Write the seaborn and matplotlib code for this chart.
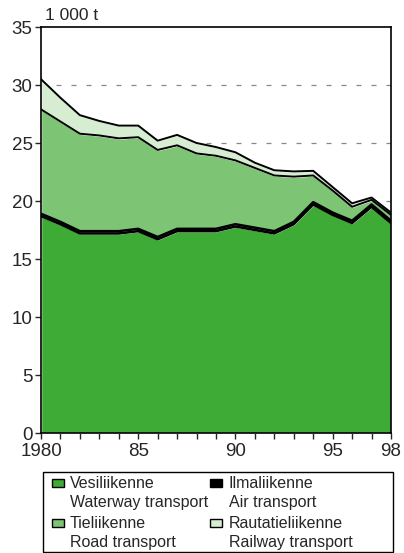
import numpy as np
import matplotlib
matplotlib.use("Agg")
import matplotlib.pyplot as plt
import seaborn as sns
from matplotlib.patches import Rectangle

years = list(range(1980, 1999))
waterway = [18.7, 18.0, 17.2, 17.2, 17.2, 17.4, 16.7, 17.4, 17.4, 17.4,
            17.8, 17.5, 17.2, 18.0, 19.7, 18.8, 18.1, 19.5, 18.1]
air = [0.2] * 19
road = [9.0, 8.65, 8.4, 8.25, 8.0, 7.9, 7.5, 7.2, 6.5, 6.3,
        5.5, 5.15, 4.8, 3.9, 2.3, 1.9, 1.2, 0.4, 0.5]
railway = [2.6, 2.05, 1.6, 1.25, 1.1, 1.0, 0.8, 0.9, 0.9, 0.75,
           0.7, 0.45, 0.45, 0.45, 0.4, 0.3, 0.3, 0.2, 0.2]

labels = ["Vesiliikenne\nWaterway transport", "Ilmaliikenne\nAir transport",
          "Tieliikenne\nRoad transport", "Rautatieliikenne\nRailway transport"]
colors = ["#3dab35", "#000000", "#7dc474", "#d6edd1"]
xticks = [1980, 1985, 1990, 1995, 1998]
xticklabels = ["1980", "85", "90", "95", "98"]

sns.set_theme(style="ticks")
plt.rcParams['font.family'] = ['Liberation Sans', 'DejaVu Sans']

W, H = 404, 553
fig = plt.figure(figsize=(W / 100, H / 100), dpi=100)
ax = fig.add_axes([41 / W, 1 - 433 / H, 350 / W, 406 / H])

# dashed grid behind the areas
for yv in range(5, 35, 5):
    ax.axhline(yv, color="#888888", lw=0.9, ls=(0, (4, 8)), zorder=0)

ax.stackplot(years, waterway, air, road, railway, colors=colors, zorder=1)

# boundary lines (heavier around the air band)
cum = np.cumsum([waterway, air, road, railway], axis=0)
for level, lw in zip(cum, [1.8, 1.8, 1.4, 1.4]):
    sns.lineplot(x=years, y=level, color="black", lw=lw, ax=ax, zorder=2)

ax.set_xlim(1980, 1998)
ax.set_ylim(0, 35)
ax.set_xticks(years, minor=True)
ax.set_xticks(xticks)
ax.set_xticklabels(xticklabels, fontsize=13.5)
ax.set_yticks(range(0, 36, 5))
ax.tick_params(axis="y", labelsize=13.5, length=4, width=1, pad=2)
ax.tick_params(axis="x", which="both", length=4, width=1, pad=3)
for s in ax.spines.values():
    s.set_linewidth(1.2)
    s.set_color("black")

fig.text(45 / W, 1 - 15 / H, "1 000 t", fontsize=12.5, va="center")

# legend drawn by hand: box, swatches aligned with first text line
fig.patches.append(Rectangle((43 / W, 1 - 552 / H), 350 / W, 80 / H,
                             transform=fig.transFigure, fill=False,
                             edgecolor="black", lw=1.0))
order = [0, 2, 1, 3]
spots = [(52, 70, 483), (52, 70, 523), (210, 229, 483), (210, 229, 523)]
for k, (sx, tx, ty) in zip(order, spots):
    fig.patches.append(Rectangle((sx / W, 1 - (ty + 4) / H), 12 / W, 8 / H,
                                 transform=fig.transFigure,
                                 facecolor=colors[k], edgecolor="black", lw=1.0))
    first, second = labels[k].split("\n")
    fig.text(tx / W, 1 - ty / H, first, fontsize=11.5, va="center")
    fig.text(tx / W, 1 - (ty + 19) / H, second, fontsize=11.5, va="center")

fig.savefig("out.png", dpi=100)
